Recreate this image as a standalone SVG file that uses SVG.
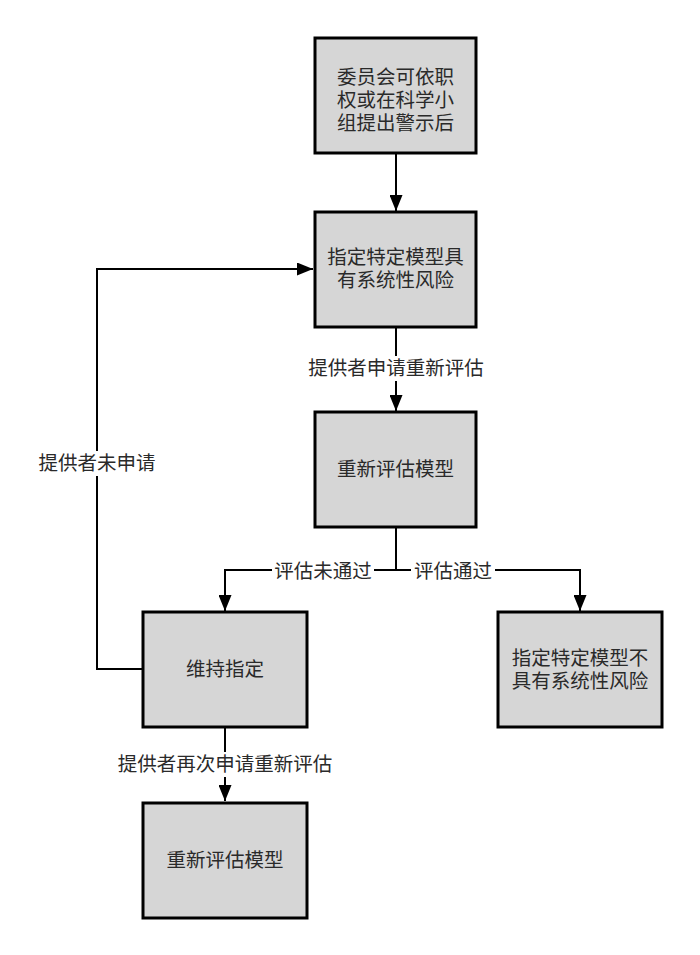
<svg xmlns="http://www.w3.org/2000/svg" width="700" height="955" viewBox="0 0 700 955">
<style>
.box{fill:#d6d6d6;stroke:#000;stroke-width:3}
.t{font-family:"Noto Sans CJK SC","Noto Sans",sans-serif;font-size:19.5px;fill:#2a2a2a;text-anchor:middle}
.lbl{font-family:"Noto Sans CJK SC","Noto Sans",sans-serif;font-size:19.5px;fill:#2a2a2a;text-anchor:middle}
.ln{fill:none;stroke:#000;stroke-width:2}
</style>
<defs>
<marker id="arr" viewBox="0 0 16 13" refX="16" refY="6.5" markerWidth="16" markerHeight="13" markerUnits="userSpaceOnUse" orient="auto">
<path d="M0,0 L16,6.5 L0,13 Z" fill="#000"/>
</marker>
</defs>
<rect width="700" height="955" fill="#fff"/>
<g id="connectors">
<path class="ln" d="M396,153 V211" marker-end="url(#arr)"/>
<path class="ln" d="M396,327 V411" marker-end="url(#arr)"/>
<path class="ln" d="M396,527 V570 H225 V611" marker-end="url(#arr)"/>
<path class="ln" d="M396,570 H580 V611" marker-end="url(#arr)"/>
<path class="ln" d="M142,669 H97 V269 H313" marker-end="url(#arr)"/>
<path class="ln" d="M225,727 V801" marker-end="url(#arr)"/>
<rect x="304" y="356" width="184" height="25" fill="#fff"/>
<text class="lbl" x="396" y="375">提供者申请重新评估</text>
<rect x="36" y="451" width="122" height="25" fill="#fff"/>
<text class="lbl" x="97" y="470">提供者未申请</text>
<rect x="272" y="559" width="102" height="25" fill="#fff"/>
<text class="lbl" x="323" y="578">评估未通过</text>
<rect x="411" y="559" width="84" height="25" fill="#fff"/>
<text class="lbl" x="453" y="578">评估通过</text>
<rect x="112" y="752" width="226" height="25" fill="#fff"/>
<text class="lbl" x="225" y="771">提供者再次申请重新评估</text>
</g>
<g id="n1"><rect class="box" x="315" y="38" width="161" height="115"/>
<text class="t" x="395.5" y="84">委员会可依职</text><text class="t" x="395.5" y="107">权或在科学小</text><text class="t" x="395.5" y="130">组提出警示后</text></g>
<g id="n2"><rect class="box" x="315" y="212" width="161" height="115"/>
<text class="t" x="395.5" y="264">指定特定模型具</text><text class="t" x="395.5" y="287">有系统性风险</text></g>
<g id="n3"><rect class="box" x="315" y="412" width="161" height="115"/>
<text class="t" x="395.5" y="476">重新评估模型</text></g>
<g id="n4"><rect class="box" x="143" y="612" width="164" height="115"/>
<text class="t" x="225" y="676">维持指定</text></g>
<g id="n5"><rect class="box" x="498" y="612" width="164" height="115"/>
<text class="t" x="580" y="665">指定特定模型不</text><text class="t" x="580" y="688">具有系统性风险</text></g>
<g id="n6"><rect class="box" x="143" y="803" width="164" height="115"/>
<text class="t" x="225" y="867">重新评估模型</text></g>
</svg>
